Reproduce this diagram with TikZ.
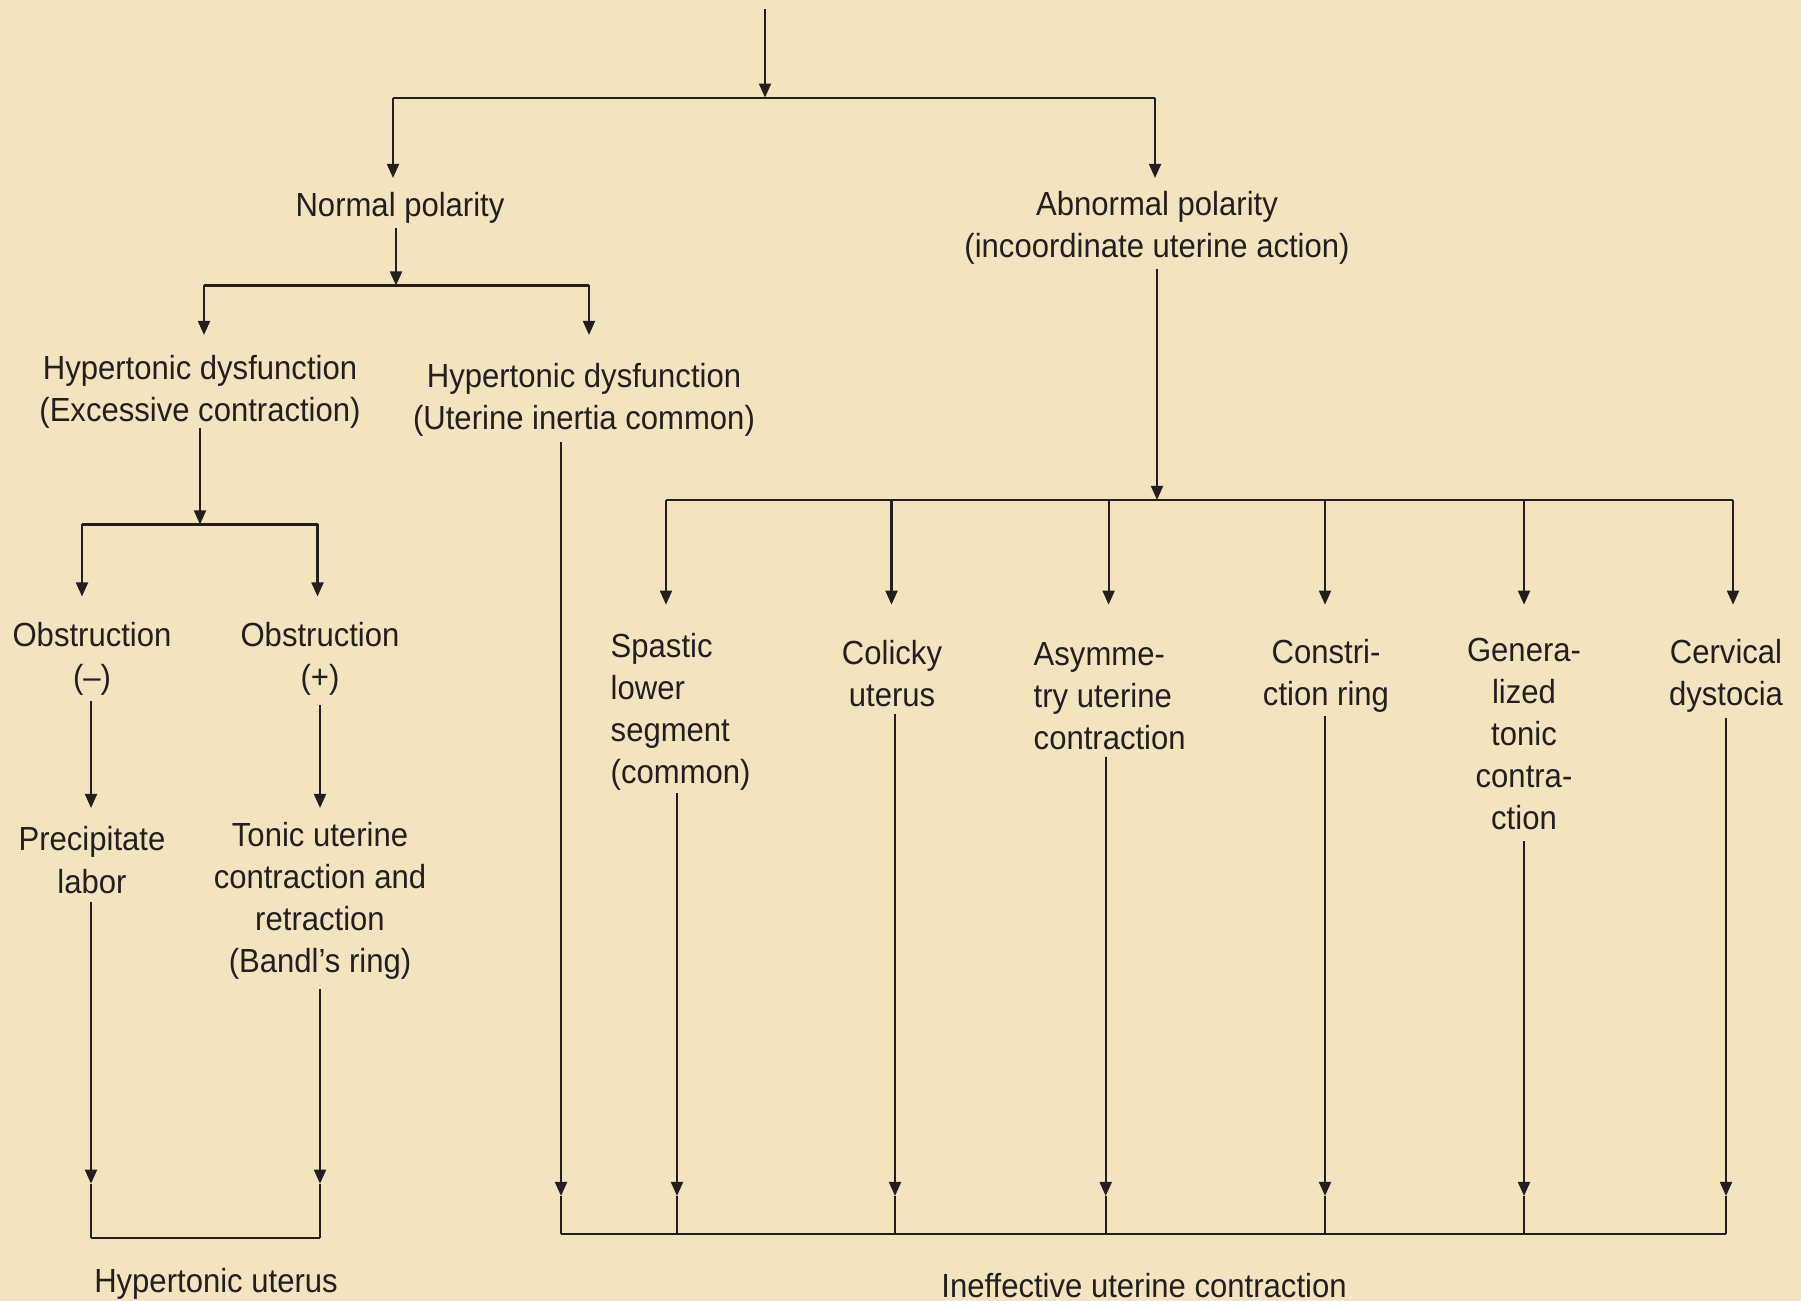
\documentclass[tikz,border=0pt]{standalone}
\usepackage{fontspec}
\setmainfont{Liberation Sans}[FakeStretch=0.93]
\usetikzlibrary{arrows.meta}
\definecolor{bg}{HTML}{F2E4BD}
\definecolor{ink}{HTML}{231F20}
\begin{document}
\begin{tikzpicture}[x=0.01cm,y=-0.01cm,
  txt/.style={inner sep=0pt,align=center,text=ink,font=\fontsize{9.5}{12}\selectfont},
  ln/.style={draw=ink,line width=0.6pt},
  arr/.style={ln,-{Triangle[length=4pt,width=3.4pt]}}]
\fill[bg] (0,0) rectangle (1801,1301);
\useasboundingbox (0,0) rectangle (1801,1301);

% ---------- text nodes ----------
\node[txt] (normal) at (400,207.5) {Normal polarity};
\node[txt] (abnormal) at (1157,228) {Abnormal polarity\\(incoordinate uterine action)};
\node[txt] (hdl) at (200,391.5) {Hypertonic dysfunction\\(Excessive contraction)};
\node[txt] (hdr) at (584,399.5) {Hypertonic dysfunction\\(Uterine inertia common)};
\node[txt] (obm) at (92,658.5) {Obstruction\\(–)};
\node[txt] (obp) at (320,658.5) {Obstruction\\(+)};
\node[txt] (prec) at (92,860) {Precipitate\\labor};
\node[txt] (tonic) at (320,901) {Tonic uterine\\contraction and\\retraction\\(Bandl’s ring)};
\node[txt] (hyut) at (216,1284) {Hypertonic uterus};
\node[txt,align=left,anchor=west] (spas) at (610,712) {Spastic\\lower\\segment\\(common)};
\node[txt] (coli) at (892,673.5) {Colicky\\uterus};
\node[txt,align=left,anchor=west] (asym) at (1033,696) {Asymme-\\try uterine\\contraction};
\node[txt] (cons) at (1326,676) {Constri-\\ction ring};
\node[txt] (gen) at (1524,734) {Genera-\\lized\\tonic\\contra-\\ction};
\node[txt] (cerv) at (1726,676) {Cervical\\dystocia};
\node[txt] (ineff) at (1144,1286) {Ineffective uterine contraction};

% ---------- level 1 ----------
\coordinate (src) at (765,9);
\coordinate (j1) at (765,97.6);
\coordinate (j1l) at (393,97.6);
\coordinate (j1r) at (1155,97.6);
\coordinate (tnp) at (393,178);
\coordinate (tab) at (1155,178);
\draw[arr] (src) -- (j1);
\draw[ln] (j1l) -- (j1r);
\draw[arr] (j1l) -- (tnp);
\draw[arr] (j1r) -- (tab);

% ---------- normal polarity branch ----------
\coordinate (snp) at (396,228);
\coordinate (j2) at (396,285.5);
\coordinate (j2l) at (204,285.5);
\coordinate (j2r) at (589,285.5);
\coordinate (thdl) at (204,335);
\coordinate (thdr) at (589,335);
\draw[arr] (snp) -- (j2);
\draw[ln] (j2l) -- (j2r);
\draw[arr] (j2l) -- (thdl);
\draw[arr] (j2r) -- (thdr);

% ---------- hypertonic (excessive) branch ----------
\coordinate (shdl) at (200,428);
\coordinate (j3) at (200,524.5);
\coordinate (j3l) at (82,524.5);
\coordinate (j3r) at (317.5,524.5);
\coordinate (tobm) at (82,596.5);
\coordinate (tobp) at (317.5,596.5);
\draw[arr] (shdl) -- (j3);
\draw[ln] (j3l) -- (j3r);
\draw[arr] (j3l) -- (tobm);
\draw[arr] (j3r) -- (tobp);

\coordinate (sobm) at (91,701);
\coordinate (tprec) at (91,808);
\coordinate (sobp) at (320,705);
\coordinate (tton) at (320,808);
\draw[arr] (sobm) -- (tprec);
\draw[arr] (sobp) -- (tton);

\coordinate (sprec) at (91,901.5);
\coordinate (hprec) at (91,1183.7);
\coordinate (eprec) at (91,1238);
\coordinate (ston) at (320,989);
\coordinate (hton) at (320,1183.7);
\coordinate (eton) at (320,1238);
\draw[arr] (sprec) -- (hprec);
\draw[ln] (hprec) -- (eprec);
\draw[arr] (ston) -- (hton);
\draw[ln] (hton) -- (eton);
\draw[ln] (eprec) -- (eton);

% ---------- abnormal polarity branch ----------
\coordinate (sab) at (1157,269);
\coordinate (j6) at (1157,500);
\coordinate (j6l) at (666,500);
\coordinate (j6r) at (1733,500);
\draw[arr] (sab) -- (j6);
\draw[ln] (j6l) -- (j6r);

\foreach \n/\x in {1/666,2/891.5,3/1108.6,4/1325,5/1524,6/1733}{
  \coordinate (bt\n) at (\x,500);
  \coordinate (tt\n) at (\x,604.7);
  \draw[arr] (bt\n) -- (tt\n);
}

% ---------- bottom (ineffective) collector ----------
\coordinate (shdr) at (561,442);
\coordinate (hhdr) at (561,1196);
\coordinate (ehdr) at (561,1234);
\draw[arr] (shdr) -- (hhdr);
\draw[ln] (hhdr) -- (ehdr);

\foreach \n/\x/\y in {1/677/793,2/895/714,3/1105.7/756.6,4/1325/716,5/1524/841,6/1726/717.5}{
  \coordinate (sb\n) at (\x,\y);
  \coordinate (hb\n) at (\x,1196);
  \coordinate (eb\n) at (\x,1234);
  \draw[arr] (sb\n) -- (hb\n);
  \draw[ln] (hb\n) -- (eb\n);
}
\draw[ln] (ehdr) -- (eb6);
\end{tikzpicture}
\end{document}
